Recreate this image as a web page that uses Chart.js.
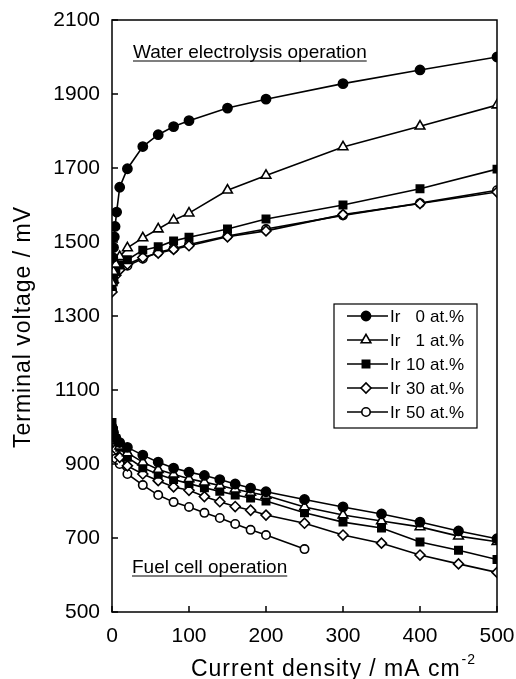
<!DOCTYPE html>
<html>
<head>
<meta charset="utf-8">
<script src="https://cdn.jsdelivr.net/npm/chart.js@4.4.1/dist/chart.umd.min.js"></script>
<style>
  html, body { margin: 0; padding: 0; background: #fff; }
  #wrap { width: 516px; height: 679px; }
</style>
</head>
<body>
<div id="wrap"><canvas id="chart" width="516" height="679"></canvas></div>
<script>
// current densities (mA cm-2)
const ir0ElecCurrent = [1, 2, 3, 4, 6, 10, 20, 40, 60, 80, 100, 150, 200, 300, 400, 500];
const elecCurrent = [0, 2, 5, 10, 20, 40, 60, 80, 100, 150, 200, 300, 400, 500];
const fuelCurrent = [0, 2, 5, 10, 20, 40, 60, 80, 100, 120, 140, 160, 180, 200, 250, 300, 350, 400, 450, 500];

// terminal voltage (mV), water electrolysis branch
const ir0Elec = [1458, 1485, 1514, 1542, 1581, 1648, 1698, 1758, 1790, 1812, 1828, 1862, 1886, 1928, 1965, 2000];
const ir1Elec = [1390, 1420, 1440, 1460, 1484, 1511, 1535, 1559, 1578, 1640, 1680, 1757, 1813, 1870];
const ir10Elec = [1380, 1400, 1420, 1438, 1452, 1478, 1487, 1503, 1513, 1535, 1562, 1600, 1644, 1697];
const ir30Elec = [1365, 1390, 1410, 1425, 1440, 1458, 1470, 1480, 1490, 1514, 1530, 1574, 1604, 1635];
const ir50Elec = [1370, 1395, 1415, 1430, 1436, 1455, 1472, 1482, 1493, 1516, 1535, 1572, 1605, 1640];

// terminal voltage (mV), fuel cell branch
const ir0Fuel = [1000, 985, 970, 958, 945, 924, 905, 889, 878, 869, 858, 846, 835, 825, 804, 784, 765, 743, 719, 698];
const ir1Fuel = [995, 978, 962, 948, 930, 905, 885, 872, 860, 851, 842, 832, 823, 815, 784, 762, 746, 730, 705, 690];
const ir10Fuel = [1012, 990, 968, 945, 918, 890, 872, 858, 847, 836, 826, 816, 808, 800, 768, 743, 727, 689, 667, 642];
const ir30Fuel = [985, 960, 940, 918, 895, 873, 855, 838, 829, 812, 798, 785, 775, 762, 740, 708, 686, 654, 630, 607];
const ir50Fuel = [960, 935, 915, 900, 873, 843, 816, 797, 784, 768, 754, 738, 722, 708, 670];

const seriesNames = ["0", "1", "10", "30", "50"];
const xTicks = [0, 100, 200, 300, 400, 500];
const yTicks = [500, 700, 900, 1100, 1300, 1500, 1700, 1900, 2100];

const FONT = "'Liberation Sans', Arial, Helvetica, sans-serif";

const markers = [
  { pointStyle: "circle", radius: 4.6, fill: "#000" },
  { pointStyle: "triangle", radius: 5.6, fill: "#fff" },
  { pointStyle: "rect", radius: 5.2, fill: "#000" },
  { pointStyle: "rectRot", radius: 5, fill: "#fff" },
  { pointStyle: "circle", radius: 4.2, fill: "#fff" },
];

function pts(xs, ys) {
  return ys.map((y, i) => ({ x: xs[i], y }));
}

const branches = [
  [pts(ir0ElecCurrent, ir0Elec), pts(fuelCurrent, ir0Fuel)],
  [pts(elecCurrent, ir1Elec), pts(fuelCurrent, ir1Fuel)],
  [pts(elecCurrent, ir10Elec), pts(fuelCurrent, ir10Fuel)],
  [pts(elecCurrent, ir30Elec), pts(fuelCurrent, ir30Fuel)],
  [pts(elecCurrent, ir50Elec), pts(fuelCurrent, ir50Fuel)],
];

const datasets = [];
branches.forEach((b, i) => {
  const m = markers[i];
  b.forEach(data => {
    datasets.push({
      label: "Ir " + seriesNames[i] + " at.%",
      data,
      showLine: true,
      borderColor: "#000",
      borderWidth: 1.6,
      pointStyle: m.pointStyle,
      pointRadius: m.radius,
      pointBackgroundColor: m.fill,
      pointBorderColor: "#000",
      pointBorderWidth: 1.6,
      tension: 0,
    });
  });
});

// frame, inward ticks, titles, notes and legend
const decor = {
  id: "decor",
  afterDraw(chart) {
    const ctx = chart.ctx;
    const a = chart.chartArea;
    const xs = chart.scales.x, ys = chart.scales.y;
    ctx.save();
    ctx.strokeStyle = "#000";
    ctx.fillStyle = "#000";
    ctx.lineWidth = 1.5;
    ctx.strokeRect(a.left, a.top, a.right - a.left, a.bottom - a.top);

    ctx.beginPath();
    xTicks.forEach(v => {
      const px = xs.getPixelForValue(v);
      ctx.moveTo(px, a.bottom);
      ctx.lineTo(px, a.bottom - 6);
    });
    yTicks.forEach(v => {
      const py = ys.getPixelForValue(v);
      ctx.moveTo(a.left, py);
      ctx.lineTo(a.left + 6, py);
    });
    ctx.stroke();

    // axis titles
    ctx.letterSpacing = "1px";
    ctx.font = "23px " + FONT;
    ctx.textBaseline = "alphabetic";
    const main = "Current density / mA cm";
    const w1 = ctx.measureText(main).width;
    ctx.font = "14px " + FONT;
    const w2 = ctx.measureText("-2").width;
    const x0 = 333 - (w1 + w2) / 2;
    ctx.font = "23px " + FONT;
    ctx.textAlign = "left";
    ctx.fillText(main, x0, 676);
    ctx.font = "14px " + FONT;
    ctx.fillText("-2", x0 + w1 + 1, 664);

    ctx.save();
    ctx.translate(30, 327);
    ctx.rotate(-Math.PI / 2);
    ctx.font = "23px " + FONT;
    ctx.textAlign = "center";
    ctx.fillText("Terminal voltage / mV", 0, 0);
    ctx.restore();
    ctx.letterSpacing = "0px";

    // underlined notes
    ctx.font = "19px " + FONT;
    ctx.textAlign = "left";
    ctx.lineWidth = 1.2;
    [["Water electrolysis operation", 133, 58], ["Fuel cell operation", 132, 573]].forEach(([t, x, y]) => {
      ctx.fillText(t, x, y);
      const w = ctx.measureText(t).width;
      ctx.beginPath();
      ctx.moveTo(x, y + 3);
      ctx.lineTo(x + w, y + 3);
      ctx.stroke();
    });

    // legend
    ctx.lineWidth = 1.2;
    ctx.strokeRect(334, 304, 143, 124);
    const rows = [316, 340, 364, 388, 412];
    ctx.font = "17px " + FONT;
    ctx.textBaseline = "middle";
    rows.forEach((y, i) => {
      const m = markers[i];
      ctx.lineWidth = 1.6;
      ctx.strokeStyle = "#000";
      ctx.beginPath();
      ctx.moveTo(347, y);
      ctx.lineTo(388, y);
      ctx.stroke();
      ctx.fillStyle = m.fill;
      Chart.helpers.drawPoint(ctx, {
        pointStyle: m.pointStyle,
        radius: m.radius,
        borderWidth: 1.6,
        rotation: 0,
      }, 366, y);
      ctx.fillStyle = "#000";
      ctx.textAlign = "left";
      ctx.fillText("Ir", 390, y + 1);
      ctx.textAlign = "right";
      ctx.fillText(seriesNames[i], 425, y + 1);
      ctx.textAlign = "left";
      ctx.fillText("at.%", 430, y + 1);
    });
    ctx.restore();
  },
};

new Chart(document.getElementById("chart"), {
  type: "scatter",
  data: { datasets },
  options: {
    responsive: false,
    animation: false,
    layout: { padding: { top: 20, right: 19, left: 0, bottom: 0 } },
    plugins: { legend: { display: false }, tooltip: { enabled: false } },
    scales: {
      x: {
        type: "linear",
        min: 0,
        max: 500,
        afterFit: s => { s.height = 67; s.paddingLeft = 0; s.paddingRight = 0; },
        afterBuildTicks: s => { s.ticks = xTicks.map(v => ({ value: v })); },
        grid: { display: false, drawTicks: false },
        border: { display: false },
        ticks: { color: "#000", padding: 12, font: { size: 21, family: FONT }, callback: v => String(v) },
      },
      y: {
        type: "linear",
        min: 500,
        max: 2100,
        afterFit: s => { s.width = 112; s.paddingTop = 0; s.paddingBottom = 0; },
        afterBuildTicks: s => { s.ticks = yTicks.map(v => ({ value: v })); },
        grid: { display: false, drawTicks: false },
        border: { display: false },
        ticks: { color: "#000", padding: 12, font: { size: 21, family: FONT }, callback: v => String(v) },
      },
    },
  },
  plugins: [decor],
});
</script>
</body>
</html>
